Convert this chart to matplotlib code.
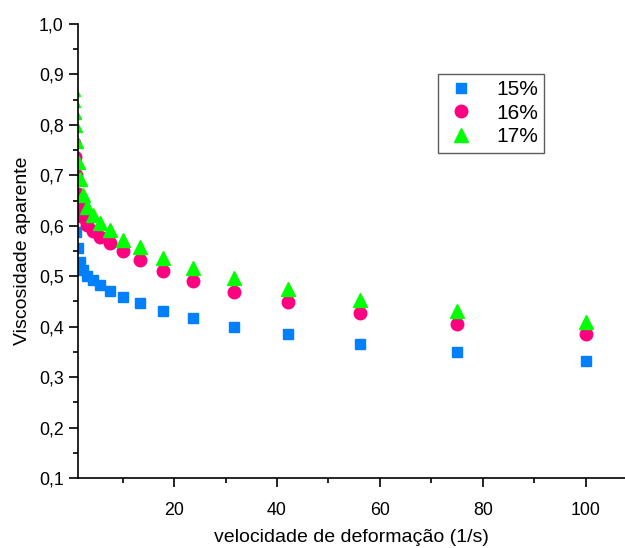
import matplotlib
matplotlib.use("Agg")
import matplotlib.pyplot as plt
from matplotlib.ticker import MultipleLocator, FuncFormatter

plt.rcParams['font.family'] = ['Liberation Sans', 'DejaVu Sans']

# shear rate (1/s)
x_rate = [0.32, 0.42, 0.56, 0.75, 1.0, 1.33, 1.78, 2.37, 3.16, 4.22, 5.62, 7.5,
          10.0, 13.3, 17.8, 23.7, 31.6, 42.2, 56.2, 75.0, 100.0]

visc_15 = [None, None, None, 0.647, 0.588, 0.556, 0.528, 0.513, 0.501, 0.493, 0.483, 0.471,
           0.459, 0.447, 0.431, 0.417, 0.399, 0.385, 0.366, 0.350, 0.332]
visc_16 = [None, None, 0.765, 0.736, 0.700, 0.664, 0.637, 0.617, 0.601, 0.589, 0.577, 0.565,
           0.550, 0.532, 0.510, 0.490, 0.468, 0.449, 0.427, 0.405, 0.385]
visc_17 = [0.872, 0.850, 0.826, 0.800, 0.769, 0.727, 0.692, 0.662, 0.638, 0.622, 0.606, 0.592,
           0.572, 0.558, 0.536, 0.516, 0.497, 0.475, 0.453, 0.432, 0.410]

labels = ['15%', '16%', '17%']

def pairs(xs, ys):
    px = [a for a, b in zip(xs, ys) if b is not None]
    py = [b for b in ys if b is not None]
    return px, py

fig = plt.figure(figsize=(6.25, 5.48), dpi=100)
ax = fig.add_axes([0.1248, 0.1277, 0.8752, 0.8285])

x1, y1 = pairs(x_rate, visc_15)
x2, y2 = pairs(x_rate, visc_16)
x3, y3 = pairs(x_rate, visc_17)
ax.plot(x1, y1, linestyle='none', marker='s', markersize=7.8, color='#0080FF', label=labels[0])
ax.plot(x2, y2, linestyle='none', marker='o', markersize=9, color='#FF0080', label=labels[1])
ax.plot(x3, y3, linestyle='none', marker='^', markersize=10, color='#00FF00', label=labels[2])

ax.set_xlim(1.34, 107.6)
ax.set_ylim(0.1, 1.0)

ax.spines['top'].set_visible(False)
ax.spines['right'].set_visible(False)
for s in ['left', 'bottom']:
    ax.spines[s].set_linewidth(1.2)

ax.xaxis.set_major_locator(MultipleLocator(20))
ax.xaxis.set_minor_locator(MultipleLocator(10))
ax.yaxis.set_major_locator(MultipleLocator(0.1))
ax.yaxis.set_minor_locator(MultipleLocator(0.05))
ax.yaxis.set_major_formatter(FuncFormatter(lambda v, p: f"{v:.1f}".replace('.', ',')))
ax.xaxis.set_major_formatter(FuncFormatter(lambda v, p: f"{v:.0f}"))

ax.tick_params(which='major', direction='out', length=6.2, width=1.2, labelsize=12.8)
ax.tick_params(which='minor', direction='out', length=3.6, width=1.2)
ax.tick_params(axis='y', which='major', pad=4)
ax.tick_params(axis='x', which='major', pad=11)

ax.set_xlabel('velocidade de deformação (1/s)', fontsize=14, labelpad=7)
ax.set_ylabel('Viscosidade aparente', fontsize=14, labelpad=6)

leg = ax.legend(loc='upper right', bbox_to_anchor=(0.852, 0.890), borderaxespad=0,
                fontsize=15, frameon=True, fancybox=False, edgecolor='#333333',
                handletextpad=0.9, borderpad=0.3, labelspacing=0.22, handlelength=1.6)
leg.get_frame().set_linewidth(1.0)

fig.savefig('out.png', dpi=100)
